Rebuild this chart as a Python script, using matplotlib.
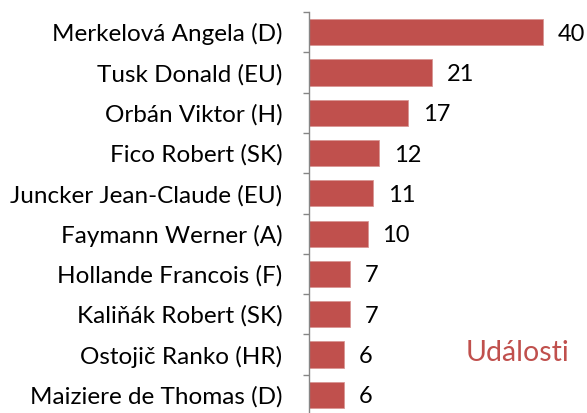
import matplotlib.pyplot as plt
import numpy as np

# data
names = ['Merkelová Angela (D)', 'Tusk Donald (EU)', 'Orbán Viktor (H)', 'Fico Robert (SK)',
         'Juncker Jean-Claude (EU)', 'Faymann Werner (A)', 'Hollande Francois (F)',
         'Kaliňák Robert (SK)', 'Ostojič Ranko (HR)', 'Maiziere de Thomas (D)']
counts = [40, 21, 17, 12, 11, 10, 7, 7, 6, 6]
series_name = 'Události'

bar_color = '#C0504D'
plt.rcParams['font.family'] = ['Lato', 'DejaVu Sans']

fig = plt.figure(figsize=(5.87, 4.13), dpi=100)
ax = fig.add_axes([309/587, -2/413, 1 - 309/587, 403/413])

y = np.arange(len(names))
ax.barh(y, counts, height=0.65, color=bar_color, edgecolor='#D99694', linewidth=0.6)
ax.set_ylim(len(names) - 0.5, -0.5)
ax.set_xlim(0, 47.5)

# value labels
for yi, v in zip(y, counts):
    ax.text(v + 2.5, yi + 0.05, str(v), va='center', ha='left', fontsize=17, color='black')

ax.set_yticks(y)
ax.set_yticklabels(names, fontsize=17.5)
ax.tick_params(axis='y', which='major', length=0, pad=19)
ax.set_yticks(np.arange(len(names) + 1) - 0.5, minor=True)
ax.tick_params(axis='y', which='minor', length=4, color='#868686', width=1)

ax.set_xticks([])
for s in ['top', 'right', 'bottom']:
    ax.spines[s].set_visible(False)
ax.spines['left'].set_color('#868686')
ax.spines['left'].set_linewidth(1)

# legend-like series label
fig.text(518/587, 1 - 353/413, series_name, color=bar_color, fontsize=20.5, ha='center', va='center')

fig.savefig('out.png', dpi=100)
